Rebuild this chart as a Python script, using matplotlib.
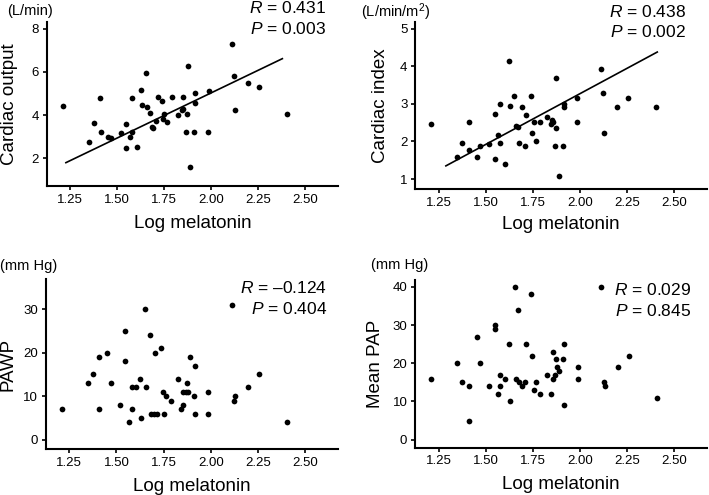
import matplotlib
matplotlib.use("Agg")
import matplotlib.pyplot as plt

plt.rcParams['font.family'] = ['Liberation Sans', 'DejaVu Sans']
plt.rcParams['mathtext.fontset'] = 'custom'
plt.rcParams['mathtext.rm'] = 'Liberation Sans'
plt.rcParams['mathtext.it'] = 'Liberation Sans:italic'

# ---- Panel 1: Cardiac output ----
co_x = [1.209, 1.348, 1.374, 1.408, 1.413, 1.450, 1.468, 1.518, 1.548, 1.548,
        1.569, 1.580, 1.580, 1.605, 1.626, 1.631, 1.654, 1.658, 1.676, 1.684,
        1.693, 1.709, 1.715, 1.738, 1.750, 1.746, 1.764, 1.791, 1.826, 1.844,
        1.851, 1.851, 1.867, 1.874, 1.878, 1.887, 1.911, 1.913, 1.915, 1.984,
        1.986, 2.110, 2.121, 2.129, 2.195, 2.254, 2.406]
co_y = [4.42, 2.75, 3.62, 4.81, 3.22, 2.98, 2.94, 3.15, 3.59, 2.48,
        3.00, 3.22, 4.77, 2.52, 5.15, 4.47, 5.96, 4.36, 4.08, 3.46,
        3.42, 3.71, 4.82, 4.65, 4.03, 3.82, 3.69, 4.82, 4.02, 4.23,
        4.82, 4.28, 3.20, 4.05, 6.27, 1.61, 3.23, 5.00, 4.57, 3.23,
        5.13, 7.27, 5.81, 4.22, 5.48, 5.31, 4.05]
co_fit_x = [1.227, 2.379]
co_fit_y = [1.80, 6.61]

# ---- Panel 2: Cardiac index ----
ci_x = [1.209, 1.349, 1.374, 1.411, 1.413, 1.452, 1.468, 1.516, 1.550, 1.548,
        1.567, 1.578, 1.578, 1.605, 1.626, 1.631, 1.652, 1.660, 1.674, 1.679,
        1.693, 1.709, 1.713, 1.739, 1.745, 1.755, 1.766, 1.789, 1.826, 1.846,
        1.853, 1.858, 1.869, 1.872, 1.876, 1.888, 1.913, 1.915, 1.915, 1.984,
        1.984, 2.110, 2.122, 2.129, 2.197, 2.254, 2.404]
ci_y = [2.46, 1.58, 1.97, 2.53, 1.78, 1.58, 1.87, 1.93, 2.73, 1.54,
        2.16, 1.95, 3.00, 1.41, 4.14, 2.94, 3.20, 2.40, 2.38, 1.95,
        2.91, 1.87, 2.70, 3.22, 2.22, 2.53, 2.02, 2.53, 2.66, 2.47,
        2.57, 2.52, 1.89, 2.37, 3.68, 1.07, 1.89, 3.01, 2.92, 3.15,
        2.51, 3.94, 3.30, 2.22, 2.92, 3.16, 2.92]
ci_fit_x = [1.289, 2.411]
ci_fit_y = [1.35, 4.38]

# ---- Panel 3: PAWP ----
pawp_x = [1.209, 1.349, 1.374, 1.410, 1.410, 1.452, 1.470, 1.518, 1.548, 1.548,
          1.569, 1.580, 1.580, 1.605, 1.626, 1.631, 1.654, 1.658, 1.676, 1.681,
          1.697, 1.707, 1.715, 1.739, 1.746, 1.754, 1.764, 1.791, 1.826, 1.842,
          1.851, 1.851, 1.867, 1.874, 1.881, 1.888, 1.913, 1.917, 1.918, 1.986,
          1.986, 2.113, 2.126, 2.129, 2.199, 2.255, 2.406]
pawp_y = [7, 13, 15, 19, 7, 20, 13, 8, 25, 18,
          4, 7, 12, 12, 14, 5, 30, 12, 24, 6,
          6, 20, 6, 21, 11, 6, 10, 9, 14, 7,
          8, 11, 11, 13, 11, 19, 10, 17, 6, 11,
          6, 31, 9, 10, 12, 15, 4]

# ---- Panel 4: Mean PAP ----
pap_x = [1.209, 1.349, 1.374, 1.411, 1.413, 1.452, 1.468, 1.516, 1.550, 1.550,
         1.567, 1.578, 1.578, 1.605, 1.626, 1.631, 1.654, 1.660, 1.674, 1.679,
         1.693, 1.709, 1.713, 1.739, 1.745, 1.755, 1.766, 1.791, 1.828, 1.846,
         1.855, 1.855, 1.869, 1.874, 1.879, 1.887, 1.913, 1.917, 1.917, 1.988,
         1.988, 2.110, 2.126, 2.133, 2.204, 2.259, 2.410]
pap_y = [16, 20, 15, 14, 5, 27, 20, 14, 30, 29,
         12, 17, 14, 16, 25, 10, 40, 16, 34, 15,
         14, 15, 25, 38, 22, 13, 15, 12, 17, 12,
         23, 16, 17, 21, 19, 18, 21, 9, 25, 19,
         16, 40, 15, 14, 19, 22, 11]

x_ticks = [1.25, 1.50, 1.75, 2.00, 2.25, 2.50]
x_tick_labels = ["1.25", "1.50", "1.75", "2.00", "2.25", "2.50"]

panels = [
    dict(pos=[0.0659, 0.6242, 0.4108, 0.3320], x=co_x, y=co_y, fx=co_fit_x, fy=co_fit_y,
         ylim=(0.72, 8.32), yticks=[2, 4, 6, 8], ylabel="Cardiac output", unit="(L/min)",
         unit_xy=(7, 11), r="$R$ = 0.431", p="$P$ = 0.003", rp_x=326, r_y=8, p_y=29,
         ylab_x=-0.100, xlab_pad=7),
    dict(pos=[0.5853, 0.6182, 0.4119, 0.3374], x=ci_x, y=ci_y, fx=ci_fit_x, fy=ci_fit_y,
         ylim=(0.735, 5.18), yticks=[1, 2, 3, 4, 5], ylabel="Cardiac index", unit="(L/min/m$^2$)",
         unit_xy=(361, 12), r="$R$ = 0.438", p="$P$ = 0.002", rp_x=686, r_y=12, p_y=32,
         ylab_x=-0.088, xlab_pad=5),
    dict(pos=[0.0645, 0.0929, 0.4122, 0.3434], x=pawp_x, y=pawp_y, fx=None, fy=None,
         ylim=(-2.14, 36.9), yticks=[0, 10, 20, 30], ylabel="PAWP", unit="(mm Hg)",
         unit_xy=(0, 266), r="$R$ = \u20130.124", p="$P$ = 0.404", rp_x=327, r_y=288, p_y=309,
         ylab_x=-0.100, xlab_pad=7),
    dict(pos=[0.5853, 0.0956, 0.4119, 0.3388], x=pap_x, y=pap_y, fx=None, fy=None,
         ylim=(-2.1, 41.8), yticks=[0, 10, 20, 30, 40], ylabel="Mean PAP", unit="(mm Hg)",
         unit_xy=(371, 265), r="$R$ = 0.029", p="$P$ = 0.845", rp_x=691, r_y=290, p_y=311,
         ylab_x=-0.105, xlab_pad=6),
]

W, H = 709, 495
fig = plt.figure(figsize=(W / 100, H / 100), dpi=100)

for pn in panels:
    ax = fig.add_axes(pn["pos"])
    ax.scatter(pn["x"], pn["y"], s=17, color="black", linewidths=0, zorder=3)
    if pn["fx"] is not None:
        ax.plot(pn["fx"], pn["fy"], color="black", lw=1.2, zorder=2)
    ax.set_xlim(1.125, 2.675)
    ax.set_ylim(*pn["ylim"])
    ax.set_xticks(x_ticks)
    ax.set_xticklabels(x_tick_labels)
    ax.set_yticks(pn["yticks"])
    for s in ["top", "right"]:
        ax.spines[s].set_visible(False)
    for s in ["left", "bottom"]:
        ax.spines[s].set_linewidth(1.5)
        ax.spines[s].set_color("black")
    ax.tick_params(axis="both", direction="out", length=3, width=1.2, labelsize=9.5,
                   pad=2.5, colors="black")
    ax.set_xlabel("Log melatonin", fontsize=13.5, labelpad=pn["xlab_pad"])
    ax.set_ylabel(pn["ylabel"], fontsize=13.5)
    ax.yaxis.set_label_coords(pn["ylab_x"], 0.5)
    ux, uy = pn["unit_xy"]
    fig.text(ux / W, 1 - uy / H, pn["unit"], fontsize=10.5, ha="left", va="center")
    fig.text(pn["rp_x"] / W, 1 - pn["r_y"] / H, pn["r"], fontsize=12.5, ha="right", va="center")
    fig.text(pn["rp_x"] / W, 1 - pn["p_y"] / H, pn["p"], fontsize=12.5, ha="right", va="center")

fig.savefig("out.png", dpi=100)
